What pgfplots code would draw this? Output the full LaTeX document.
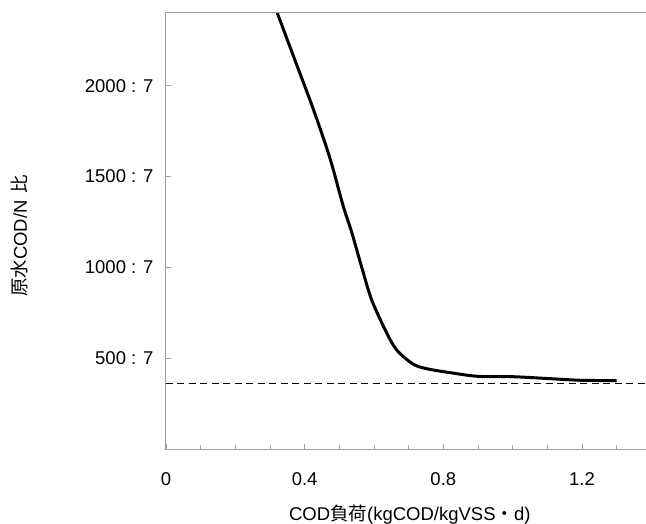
\documentclass[border=0pt]{standalone}
\usepackage{fontspec}
\setmainfont{Liberation Sans}
\newfontfamily\cjk{Noto Sans CJK JP}
\usepackage{pgfplots}
\pgfplotsset{compat=1.18}
\definecolor{axgray}{HTML}{A0A0A0}
\begin{document}
\begin{tikzpicture}
\begin{axis}[
  at={(0,0)}, anchor=south west,
  scale only axis,
  width=480bp, height=436bp,
  xmin=0, xmax=1.3845,
  ymin=0, ymax=2400,
  axis line style={draw=none},
  tick align=inside,
  xtick pos=bottom, ytick pos=left,
  xtick={0,0.4,0.8,1.2},
  xticklabels={0,0.4,0.8,1.2},
  minor xtick={0.1,0.2,0.3,0.5,0.6,0.7,0.9,1.0,1.1,1.3},
  ytick={500,1000,1500,2000},
  yticklabels={500 : 7,1000 : 7,1500 : 7,2000 : 7},
  major tick length=5bp, minor tick length=4bp,
  every tick/.style={axgray, line width=0.8bp},
  every minor tick/.style={axgray, line width=0.8bp},
  tick label style={font=\fontsize{18.5bp}{20bp}\selectfont, text=black},
  xticklabel style={anchor=center, yshift=-30bp},
  yticklabel style={anchor=east, xshift=-9bp},
  /pgf/number format/assume math mode=true,
  clip=false,
]
\addplot[black, line width=3bp, line join=round, smooth, tension=0.5] coordinates {
(0.321,2400) (0.372,2140) (0.425,1870) (0.473,1600) (0.510,1345)
(0.536,1191) (0.564,1004) (0.593,822) (0.635,645) (0.665,546)
(0.712,468) (0.752,442) (0.82,420) (0.9,400) (1.0,398) (1.1,388) (1.2,378) (1.3,377)
};
\addplot[black, line width=1.3bp, dash pattern=on 7bp off 4.5bp] coordinates {
(0,360) (1.3845,360)
};
\draw[axgray, line width=1bp] (rel axis cs:1,1) -- (rel axis cs:0,1) -- (rel axis cs:0,0) -- (rel axis cs:1,0);
\node[rotate=90, font=\fontsize{18.5bp}{20bp}\selectfont] at (rel axis cs:0,0.489) [yshift=146bp] {{\cjk 原水}COD/N\hspace{2bp} {\cjk 比}};
\node[font=\fontsize{18.5bp}{20bp}\selectfont] at (rel axis cs:0.508,0) [yshift=-66bp] {COD{\cjk 負荷}(kgCOD/kgVSS{\cjk ・}d)};
\end{axis}
\pgfresetboundingbox
\useasboundingbox (-166bp,-75bp) rectangle (480bp,449bp);
\end{tikzpicture}
\end{document}
